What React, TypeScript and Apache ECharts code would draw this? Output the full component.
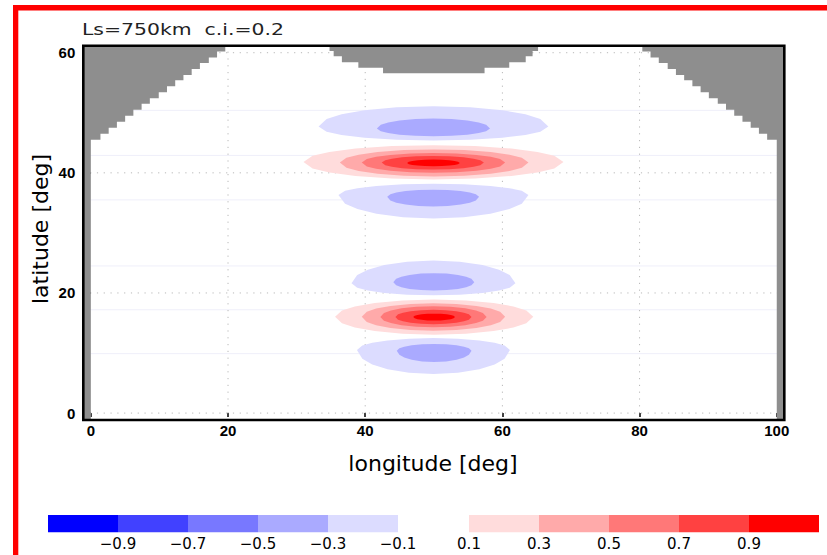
import React, { useEffect, useRef } from "react";
import * as echarts from "echarts";

// Plot extents in degrees
const lonRange = [-1.1, 101.1];
const latRange = [-1.15, 61.15];
const lonTicks = [0, 20, 40, 60, 80, 100];
const latTicks = [0, 20, 40, 60];
const lonGuides = [20, 40, 60, 80];
const latGuides = [0, 20, 40, 60];
const faintLats = [50.4, 42.9, 35.5, 24.5, 17.2, 9.9];

// Shading levels and colours
const negLevels = [-0.9, -0.7, -0.5, -0.3, -0.1];
const posLevels = [0.1, 0.3, 0.5, 0.7, 0.9];
const negColors = ["#0000ff", "#4141ff", "#7878ff", "#aaaaff", "#dcdcff"];
const posColors = ["#ffdcdc", "#ffaaaa", "#ff7878", "#ff4141", "#ff0000"];
const landColor = "#8e8e8e";

// Land mask, western coast: east edge of land per row, bottom latitude per row
const westCoastLon = [19.6, 18.4, 17.2, 15.9, 14.7, 13.5, 12.3, 11.1, 9.9, 8.6, 7.4, 6.2, 5.0, 3.8, 2.6, 1.4, 0.0];
const westCoastLat = [60.2, 59.2, 58.3, 57.3, 56.3, 55.4, 54.4, 53.4, 52.4, 51.5, 50.5, 49.5, 48.5, 47.5, 46.5, 45.5];
// Eastern coast: west edge of land per row
const eastCoastLon = [80.4, 81.6, 82.8, 84.1, 85.3, 86.5, 87.7, 88.9, 90.1, 91.4, 92.6, 93.8, 95.0, 96.2, 97.4, 98.6, 100.0];
const eastCoastLat = [60.2, 59.2, 58.3, 57.3, 56.3, 55.4, 54.4, 53.4, 52.4, 51.5, 50.5, 49.5, 48.5, 47.5, 46.5, 45.5];
// Northern cape hanging from the top boundary
const capeWest = [34.8, 35.4, 36.6, 39.0, 42.6];
const capeEast = [65.2, 64.4, 63.4, 61.0, 57.4];
const capeLat = [60.3, 59.4, 58.4, 57.5, 56.6];

// Shaded bands: [level, west lon, east lon, north lat, south lat, lat of the end points]
const band48 = [
  [-0.1, 33.2, 66.7, 51.1, 45.4, 47.7],
  [-0.3, 41.7, 58.2, 49.05, 46.1, 47.4],
];
const band42 = [
  [0.1, 31.0, 68.9, 44.6, 38.9, 41.8],
  [0.3, 36.3, 63.8, 43.9, 39.4, 41.7],
  [0.5, 39.5, 60.4, 43.3, 40.0, 41.7],
  [0.7, 42.4, 57.3, 42.8, 40.55, 41.7],
  [0.9, 46.1, 53.8, 42.2, 41.1, 41.65],
];
const band36 = [
  [-0.1, 36.1, 63.8, 38.2, 32.4, 36.3],
  [-0.3, 43.2, 56.6, 37.2, 34.4, 36.0],
];
const band22 = [
  [-0.1, 38.0, 61.9, 25.4, 19.6, 21.6],
  [-0.3, 44.1, 55.9, 23.3, 20.4, 21.8],
];
const band16 = [
  [0.1, 35.6, 64.5, 18.9, 13.05, 16.05],
  [0.3, 39.5, 60.4, 18.3, 13.7, 16.05],
  [0.5, 42.2, 57.7, 17.8, 14.3, 16.0],
  [0.7, 44.4, 55.5, 17.2, 14.8, 16.0],
  [0.9, 47.0, 53.1, 16.55, 15.4, 16.0],
];
const band10 = [
  [-0.1, 38.8, 61.1, 12.5, 6.5, 10.5],
  [-0.3, 44.6, 55.5, 11.5, 8.5, 10.4],
];

// Layout (pixels)
const PLOT = { left: 83.3, top: 45.8, width: 701, height: 374.2 };
const BAR = { negX: 48, posX: 469, y: 515, segW: 70, h: 17.3, labelY: 543.5 };
const TEXT_FONT = '"DejaVu Sans", sans-serif';
const TICK_FONT = '"Liberation Sans", Arial, sans-serif';

// facets used to outline each band
const FACETS = [-1, -0.93, -0.8, -0.6, -0.32, 0, 0.32, 0.6, 0.8, 0.93, 1];

function bandColor(level: number) {
  return level < 0 ? negColors[negLevels.indexOf(level)] : posColors[posLevels.indexOf(level)];
}

function westLand() {
  const pts: number[][] = [[lonRange[0], latRange[0]], [lonRange[0], latRange[1]]];
  let top = latRange[1];
  westCoastLon.forEach((lon, i) => {
    const bottom = i < westCoastLat.length ? westCoastLat[i] : latRange[0];
    pts.push([lon, top], [lon, bottom]);
    top = bottom;
  });
  return pts;
}

function eastLand() {
  const pts: number[][] = [[lonRange[1], latRange[0]], [lonRange[1], latRange[1]]];
  let top = latRange[1];
  eastCoastLon.forEach((lon, i) => {
    const bottom = i < eastCoastLat.length ? eastCoastLat[i] : latRange[0];
    pts.push([lon, top], [lon, bottom]);
    top = bottom;
  });
  return pts;
}

function capeLand() {
  const pts: number[][] = [];
  const tops = capeLat.map((_, i) => (i === 0 ? latRange[1] : capeLat[i - 1]));
  capeWest.forEach((lon, i) => pts.push([lon, tops[i]], [lon, capeLat[i]]));
  for (let i = capeEast.length - 1; i >= 0; i--) pts.push([capeEast[i], capeLat[i]], [capeEast[i], tops[i]]);
  return pts;
}

const landShapes = [westLand(), eastLand(), capeLand()];

export default function App() {
  const ref = useRef<HTMLDivElement>(null);

  useEffect(() => {
    if (!ref.current) return;
    const chart = echarts.init(ref.current, null, { renderer: "svg" });

    const bands = [...band48, ...band42, ...band36, ...band22, ...band16, ...band10];

    const colorBar: any[] = [];
    negColors.forEach((c, i) =>
      colorBar.push({
        type: "rect",
        shape: { x: BAR.negX + i * BAR.segW, y: BAR.y, width: BAR.segW, height: BAR.h },
        style: { fill: c },
      })
    );
    posColors.forEach((c, i) =>
      colorBar.push({
        type: "rect",
        shape: { x: BAR.posX + i * BAR.segW, y: BAR.y, width: BAR.segW, height: BAR.h },
        style: { fill: c },
      })
    );
    negLevels.forEach((v, i) =>
      colorBar.push({
        type: "text",
        x: BAR.negX + (i + 1) * BAR.segW,
        y: BAR.labelY,
        style: {
          text: "\u2212" + Math.abs(v).toFixed(1),
          fontSize: 15,
          fontFamily: TEXT_FONT,
          fill: "#000",
          align: "center",
          verticalAlign: "middle",
        },
      })
    );
    posLevels.forEach((v, i) =>
      colorBar.push({
        type: "text",
        x: BAR.posX + i * BAR.segW,
        y: BAR.labelY,
        style: {
          text: v.toFixed(1),
          fontSize: 15,
          fontFamily: TEXT_FONT,
          fill: "#000",
          align: "center",
          verticalAlign: "middle",
        },
      })
    );

    const tickLabel = {
      fontFamily: TICK_FONT,
      fontWeight: "bold" as const,
      fontSize: 15,
      color: "#000",
    };

    chart.setOption({
      animation: false,
      backgroundColor: "#fff",
      grid: { left: PLOT.left, top: PLOT.top, width: PLOT.width, height: PLOT.height },
      xAxis: {
        type: "value",
        min: lonRange[0],
        max: lonRange[1],
        axisLine: { show: false },
        splitLine: { show: false },
        axisTick: { show: true, customValues: lonTicks, length: 4, lineStyle: { color: "#000", width: 1.5 } },
        axisLabel: { customValues: lonTicks, margin: 3, ...tickLabel },
      },
      yAxis: {
        type: "value",
        min: latRange[0],
        max: latRange[1],
        axisLine: { show: false },
        splitLine: { show: false },
        axisTick: { show: true, customValues: latTicks, length: 5, lineStyle: { color: "#000", width: 1.5 } },
        axisLabel: { customValues: latTicks, margin: 8, ...tickLabel },
      },
      series: [
        {
          type: "custom",
          name: "faint",
          silent: true,
          z: 1,
          data: faintLats.map((v) => [50, v]),
          renderItem: (_p: any, api: any) => {
            const a = api.coord([lonRange[0], api.value(1)]);
            const b = api.coord([lonRange[1], api.value(1)]);
            return {
              type: "line",
              shape: { x1: a[0], y1: a[1], x2: b[0], y2: b[1] },
              style: { stroke: "#efeffa", lineWidth: 1 },
            };
          },
        },
        {
          type: "custom",
          name: "guides",
          silent: true,
          z: 2,
          data: [...lonGuides.map((v) => [v, 0]), ...latGuides.map((v) => [v, 1])],
          renderItem: (_p: any, api: any) => {
            const v = api.value(0);
            const vertical = api.value(1) === 0;
            const a = vertical ? api.coord([v, latRange[0]]) : api.coord([lonRange[0], v]);
            const b = vertical ? api.coord([v, latRange[1]]) : api.coord([lonRange[1], v]);
            return {
              type: "line",
              shape: { x1: a[0], y1: a[1], x2: b[0], y2: b[1] },
              style: { stroke: "#b8b8b8", lineWidth: 1, lineDash: [1.2, 5.6] },
            };
          },
        },
        {
          type: "custom",
          name: "land",
          silent: true,
          z: 3,
          data: landShapes.map((_, i) => [i, 0]),
          renderItem: (_p: any, api: any) => {
            const shape = landShapes[api.value(0)];
            return {
              type: "polygon",
              shape: { points: shape.map((p) => api.coord(p)) },
              style: { fill: landColor },
            };
          },
        },
        {
          type: "custom",
          name: "bands",
          silent: true,
          z: 4,
          data: bands,
          encode: { x: [1, 2], y: [3, 4, 5] },
          renderItem: (_p: any, api: any) => {
            const level = api.value(0);
            const w = api.value(1);
            const e = api.value(2);
            const n = api.value(3);
            const s = api.value(4);
            const tip = api.value(5);
            const c = (w + e) / 2;
            const h = (e - w) / 2;
            const pts: number[][] = [];
            FACETS.forEach((t) => pts.push(api.coord([c + t * h, tip + (n - tip) * Math.sqrt(1 - t * t)])));
            [...FACETS].reverse().forEach((t) =>
              pts.push(api.coord([c + t * h, tip - (tip - s) * Math.sqrt(1 - t * t)]))
            );
            return { type: "polygon", shape: { points: pts }, style: { fill: bandColor(level) } };
          },
        },
      ],
      graphic: [
        {
          type: "rect",
          z: 100,
          shape: { x: PLOT.left, y: PLOT.top, width: PLOT.width, height: PLOT.height },
          style: { fill: "none", stroke: "#000", lineWidth: 2.6 },
        },
        { type: "rect", z: 100, shape: { x: 13, y: 5, width: 814, height: 5.5 }, style: { fill: "#ff0000" } },
        { type: "rect", z: 100, shape: { x: 13, y: 5, width: 5.3, height: 550 }, style: { fill: "#ff0000" } },
        {
          type: "text",
          x: 82,
          y: 29.5,
          scaleX: 1.36,
          style: {
            text: "Ls=750km  c.i.=0.2",
            fontSize: 15,
            fontFamily: TEXT_FONT,
            fill: "#222",
            verticalAlign: "middle",
          },
        },
        {
          type: "text",
          x: 433,
          y: 463,
          style: {
            text: "longitude [deg]",
            fontSize: 22,
            fontFamily: TEXT_FONT,
            fill: "#000",
            align: "center",
            verticalAlign: "middle",
          },
        },
        {
          type: "text",
          x: 40,
          y: 229,
          rotation: Math.PI / 2,
          style: {
            text: "latitude [deg]",
            fontSize: 22,
            fontFamily: TEXT_FONT,
            fill: "#000",
            align: "center",
            verticalAlign: "middle",
          },
        },
        ...colorBar,
      ],
    });

    return () => chart.dispose();
  }, []);

  return (
    <div
      ref={ref}
      style={{ position: "absolute", left: 0, top: 0, width: 827, height: 555, background: "#fff" }}
    />
  );
}
